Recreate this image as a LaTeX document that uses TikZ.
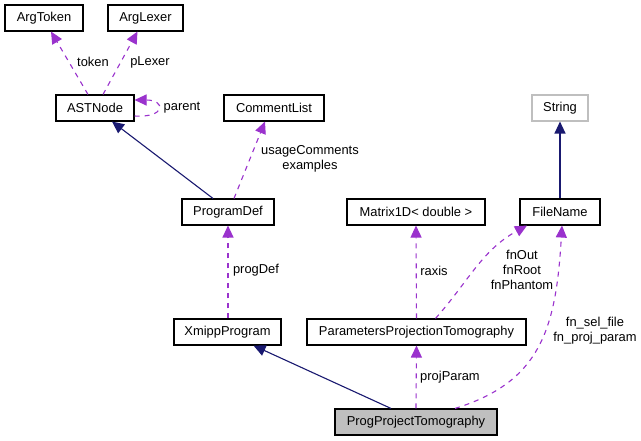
\documentclass[tikz,border=0pt]{standalone}
\usepackage{xcolor}
\usepackage{tikz}
\usetikzlibrary{arrows.meta}
\usepackage{fontspec}
\setmainfont{Liberation Sans}
\definecolor{dgpurple}{HTML}{9a32cd}
\definecolor{dgnavy}{HTML}{191970}
\definecolor{dggray}{HTML}{bfbfbf}

\begin{document}
\begin{tikzpicture}[x=1pt,y=-1pt,
  cls/.style={draw=black,line width=1.1pt,minimum height=26pt,inner sep=0pt,font=\fontsize{12.9}{15}\selectfont},
  use/.style={dgpurple,dash pattern=on 5pt off 5pt,line width=1.1pt,-{Triangle[length=12pt,width=11pt]}},
  inh/.style={dgnavy,line width=1.1pt,-{Triangle[length=12pt,width=11pt]}},
  lbl/.style={font=\fontsize{12.9}{15}\selectfont,align=center,inner sep=0pt}]
  \useasboundingbox[fill=white] (0,0) rectangle (641,441);
  \node[cls,minimum width=78pt] (ArgToken) at (44,18) {ArgToken};
  \node[cls,minimum width=75pt] (ArgLexer) at (145.5,18) {ArgLexer};
  \node[cls,minimum width=78pt] (ASTNode) at (95,108) {ASTNode};
  \node[cls,minimum width=100pt] (CommentList) at (274,108) {CommentList};
  \node[cls,draw=dggray,minimum width=56pt] (String) at (560,108) {String};
  \node[cls,minimum width=92pt] (ProgramDef) at (228,212) {ProgramDef};
  \node[cls,minimum width=138pt] (Matrix1D) at (416,212) {Matrix1D< double >};
  \node[cls,minimum width=80pt] (FileName) at (560,212) {FileName};
  \node[cls,minimum width=107pt] (XmippProgram) at (227.5,332) {XmippProgram};
  \node[cls,minimum width=219pt] (ParamsProj) at (416.5,332) {ParametersProjectionTomography};
  \node[cls,fill=dggray,minimum width=162pt] (ProgProj) at (416,422) {ProgProjectTomography};

  \draw[use] ([xshift=-7pt]ASTNode.north) -- ([xshift=7pt]ArgToken.south);
  \node[lbl] (lToken) at (93,62) {token};
  \draw[use] ([xshift=8pt]ASTNode.north) -- ([xshift=-8pt]ArgLexer.south);
  \node[lbl] (lLexer) at (150,62) {pLexer};
  \draw[use] ([yshift=-8pt]ASTNode.east) .. controls (166,118) and (166,100) .. ([yshift=8pt]ASTNode.east);
  \node[lbl] (lParent) at (182,108) {parent};
  \draw[inh] ([xshift=-15pt]ProgramDef.north) -- ([xshift=17pt]ASTNode.south);
  \draw[use] ([xshift=6pt]ProgramDef.north) -- ([xshift=-9pt]CommentList.south);
  \node[lbl] (lComments) at (310,159) {usageComments\\examples};
  \draw[use] (XmippProgram.north -| ProgramDef) -- (ProgramDef.south);
  \node[lbl] (lProgDef) at (256,270) {progDef};
  \draw[inh] ([xshift=-25pt]ProgProj.north) -- ([xshift=26pt]XmippProgram.south);
  \draw[use] (ProgProj.north) -- (ParamsProj.south);
  \node[lbl] (lProjParam) at (450,377) {projParam};
  \draw[use] (ParamsProj.north) -- (Matrix1D.south);
  \node[lbl] (lRaxis) at (434,271) {raxis};
  \draw[use] ([xshift=19pt]ParamsProj.north) .. controls (468,282) and (482,250) .. ([xshift=-33pt]FileName.south);
  \node[lbl] (lFnOut) at (522,270) {fnOut\\fnRoot\\fnPhantom};
  \draw[use] ([xshift=39pt]ProgProj.north) .. controls (540,382) and (556,330) .. ([xshift=2pt]FileName.south);
  \node[lbl] (lFnSel) at (595,331) {fn\_sel\_file\\fn\_proj\_param};
  \draw[inh] (FileName.north) -- (String.south);
\end{tikzpicture}
\end{document}
